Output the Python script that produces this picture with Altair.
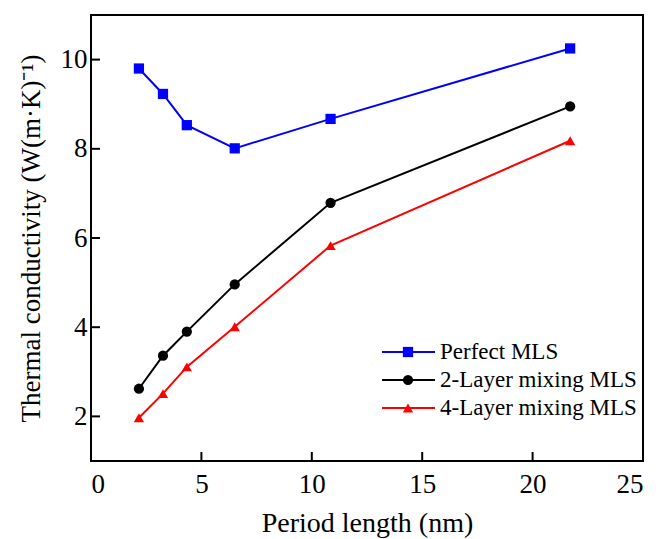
import altair as alt
import pandas as pd

# Period length (nm) of the multilayer structures
period = [2.17, 3.26, 4.34, 6.51, 10.85, 21.7]

# Thermal conductivity, W/(m·K)
perfect = [9.80, 9.23, 8.53, 8.01, 8.67, 10.25]
mix2 = [2.62, 3.36, 3.90, 4.96, 6.79, 8.95]
mix4 = [1.97, 2.51, 3.11, 4.01, 5.83, 8.18]

series_names = ["Perfect MLS", "2-Layer mixing MLS", "4-Layer mixing MLS"]
series_colors = ["#0000FF", "#000000", "#FF0000"]
series_shapes = ["square", "circle", "triangle-up"]
series_sizes = [105, 105, 160]

x_labels = [0, 5, 10, 15, 20, 25]
x_ticks = [5, 10, 15, 20]
y_ticks = [2, 4, 6, 8, 10]

FONT = "Liberation Serif"
W, H = 552, 446

rows = []
for name, vals in zip(series_names, [perfect, mix2, mix4]):
    for p, v in zip(period, vals):
        rows.append({"series": name, "period": p, "k": v})
df = pd.DataFrame(rows)

xscale = alt.Scale(domain=[0, 25], nice=False, zero=False)
yscale = alt.Scale(domain=[1, 11], nice=False, zero=False)
cscale = alt.Scale(domain=series_names, range=series_colors)
sscale = alt.Scale(domain=series_names, range=series_shapes)
zscale = alt.Scale(domain=series_names, range=series_sizes)

x_enc = alt.X(
    "period:Q",
    scale=xscale,
    title="Period length (nm)",
    axis=alt.Axis(values=x_labels, tickSize=0, labelPadding=10, labelFontSize=27,
                  titleFontSize=28, titlePadding=12, grid=False, domain=False),
)
y_enc = alt.Y(
    "k:Q",
    scale=yscale,
    title="Thermal conductivity  (W(m·K)⁻¹)",
    axis=alt.Axis(values=y_ticks, tickSize=0, labelPadding=4, labelFontSize=27,
                  titleFontSize=27, titlePadding=15, grid=False, domain=False),
)

lines = alt.Chart(df).mark_line(strokeWidth=2).encode(
    x=x_enc, y=y_enc,
    color=alt.Color("series:N", scale=cscale, legend=None),
    detail="series:N",
)
points = alt.Chart(df).mark_point(filled=True, opacity=1).encode(
    x=alt.X("period:Q", scale=xscale),
    y=alt.Y("k:Q", scale=yscale, axis=None),
    color=alt.Color("series:N", scale=cscale, legend=None),
    shape=alt.Shape("series:N", scale=sscale, legend=None),
    size=alt.Size("series:N", scale=zscale, legend=None),
)

# inward tick marks
xt = alt.Chart(pd.DataFrame({"t": x_ticks})).mark_rule(color="black", strokeWidth=2).encode(
    x=alt.X("t:Q", scale=xscale), y=alt.value(H), y2=alt.value(H - 9)
)
yt = alt.Chart(pd.DataFrame({"t": y_ticks})).mark_rule(color="black", strokeWidth=2).encode(
    y=alt.Y("t:Q", scale=yscale, axis=None), x=alt.value(0), x2=alt.value(9)
)

# hand-drawn legend (line + marker + label)
leg_df = pd.DataFrame({"series": series_names})
leg_y = alt.Y("series:N", scale=alt.Scale(type="point", domain=series_names,
                                          range=[337, 393], padding=0), axis=None)
leg_line = alt.Chart(leg_df).mark_rule(strokeWidth=2).encode(
    y=leg_y, x=alt.value(291), x2=alt.value(344),
    color=alt.Color("series:N", scale=cscale, legend=None),
)
leg_pt = alt.Chart(leg_df).mark_point(filled=True, opacity=1).encode(
    y=leg_y, x=alt.value(317),
    color=alt.Color("series:N", scale=cscale, legend=None),
    shape=alt.Shape("series:N", scale=sscale, legend=None),
    size=alt.Size("series:N", scale=zscale, legend=None),
)
leg_txt = alt.Chart(leg_df).mark_text(align="left", baseline="middle", font=FONT,
                                      fontSize=23, color="black").encode(
    y=leg_y, x=alt.value(349), text="series:N"
)

chart = (
    alt.layer(lines, points, xt, yt, leg_line, leg_pt, leg_txt)
    .resolve_scale(y="independent")
    .properties(width=W, height=H, autosize="none",
                padding={"left": 91, "top": 15, "right": 15, "bottom": 78})
    .configure_view(stroke="black", strokeWidth=2)
    .configure_axis(labelFont=FONT, titleFont=FONT,
                    labelColor="black", titleColor="black", titleFontWeight="normal")
)

chart.save("out.html", embed_options={"renderer": "svg", "actions": False})
